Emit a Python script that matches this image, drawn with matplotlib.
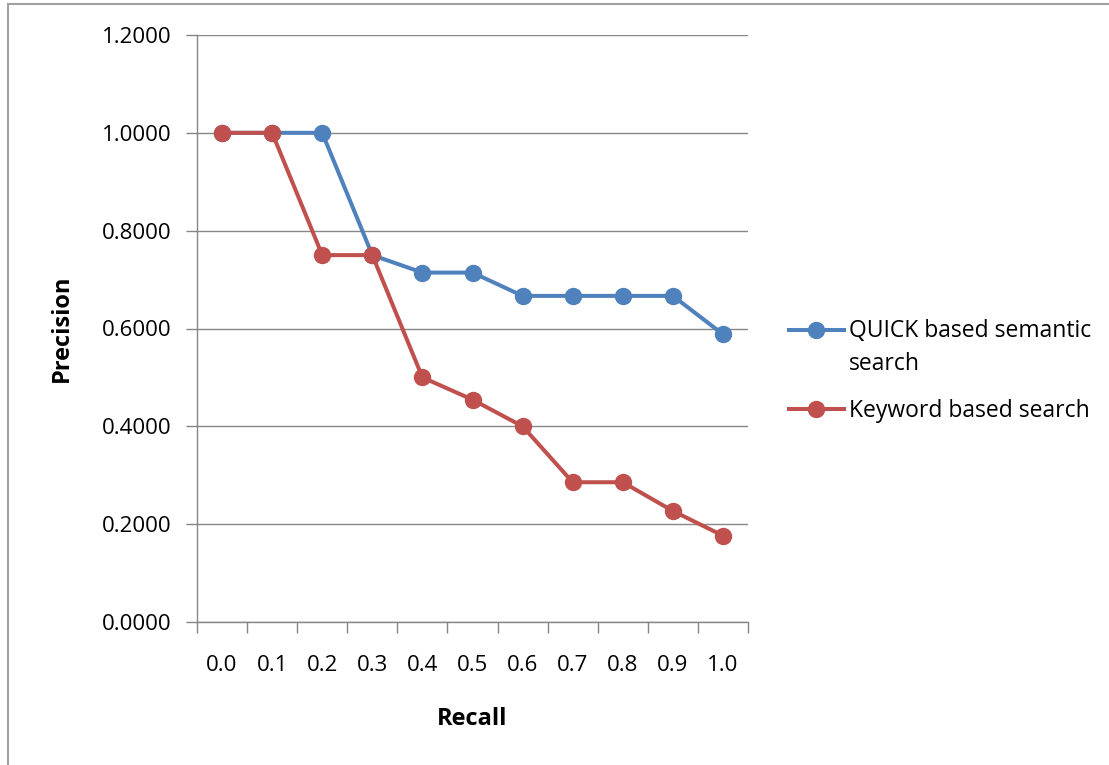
import matplotlib.pyplot as plt
from matplotlib.lines import Line2D
from matplotlib.legend_handler import HandlerLine2D

recall = ['0.0', '0.1', '0.2', '0.3', '0.4', '0.5', '0.6', '0.7', '0.8', '0.9', '1.0']
quick = [1.0, 1.0, 1.0, 0.75, 0.7143, 0.7143, 0.6667, 0.6667, 0.6667, 0.6667, 0.5882]
keyword = [1.0, 1.0, 0.75, 0.75, 0.5, 0.4545, 0.4, 0.2857, 0.2857, 0.2270, 0.1765]
y_ticks = [0.0, 0.2, 0.4, 0.6, 0.8, 1.0, 1.2]


class FirstLineHandler(HandlerLine2D):
    # Excel puts the legend key beside the first line of a wrapped label
    def __init__(self, shift, **kw):
        super().__init__(**kw)
        self.shift = shift

    def create_artists(self, legend, orig_handle, xdescent, ydescent,
                       width, height, fontsize, trans):
        arts = super().create_artists(legend, orig_handle, xdescent, ydescent,
                                      width, height, fontsize, trans)
        for a in arts:
            a.set_ydata([y + self.shift for y in a.get_ydata()])
        return arts


plt.rcParams['font.family'] = ['Open Sans', 'DejaVu Sans']
W, H = 1109, 765
fig = plt.figure(figsize=(W / 100, H / 100), dpi=100)
ax = fig.add_axes([197 / W, 1 - 622 / H, (748 - 197) / W, (622 - 35) / H])

grid_c = '#868686'
x = list(range(len(recall)))
l1, = ax.plot(x, quick, color='#4F81BD', lw=2.9, marker='o', ms=11.5,
              label='QUICK based semantic\nsearch', zorder=3)
l2, = ax.plot(x, keyword, color='#C0504D', lw=2.9, marker='o', ms=11.5,
              label='Keyword based search', zorder=4)

ax.set_xlim(-0.5, len(recall) - 0.5)
ax.set_ylim(0, 1.2)
ax.set_yticks(y_ticks)
ax.set_yticklabels([f'{v:.4f}' for v in y_ticks])
ax.set_xticks(x)
ax.set_xticklabels(recall)
ax.set_xticks([i - 0.5 for i in range(len(recall) + 1)], minor=True)
ax.tick_params(axis='x', which='major', length=0, pad=24, labelsize=16)
ax.tick_params(axis='x', which='minor', length=8, color=grid_c, width=1)
ax.tick_params(axis='y', length=8, color=grid_c, width=1, pad=10.5, labelsize=16)
ax.yaxis.grid(True, color=grid_c, lw=1)
ax.set_axisbelow(True)
for s in ['top', 'right']:
    ax.spines[s].set_visible(False)
for s in ['left', 'bottom']:
    ax.spines[s].set_color(grid_c)
    ax.spines[s].set_linewidth(1)

ax.set_xlabel('Recall', fontsize=17, fontweight='bold', labelpad=22)
ax.set_ylabel('Precision', fontsize=17, fontweight='bold', labelpad=20)

leg = ax.legend(loc='upper left', bbox_to_anchor=(1.0535, 0.536), frameon=False,
                fontsize=16.5, handlelength=2.4, handletextpad=0.2,
                labelspacing=1.03, borderpad=0,
                handler_map={l1: FirstLineHandler(13.5)})
for t in leg.get_texts():
    t.set_linespacing(1.5)

# outer chart frame (top and left edges visible in the crop)
fig.add_artist(Line2D([8 / W, 1], [1 - 4 / H, 1 - 4 / H], color='#a0a0a0', lw=1.5,
                      transform=fig.transFigure))
fig.add_artist(Line2D([8 / W, 8 / W], [0, 1 - 4 / H], color='#a0a0a0', lw=1.5,
                      transform=fig.transFigure))

fig.savefig('out.png', dpi=100)
